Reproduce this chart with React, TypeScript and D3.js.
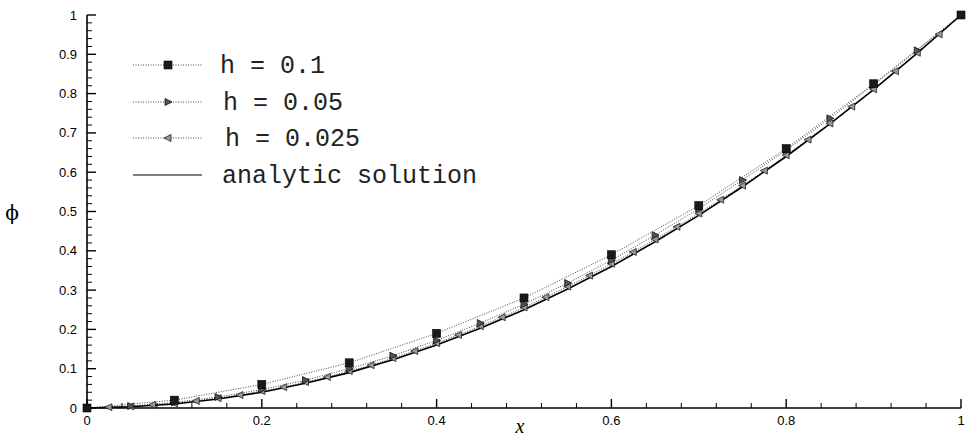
import * as d3 from "d3";

// x grid for each series
const xCoarse = [0, 0.1, 0.2, 0.3, 0.4, 0.5, 0.6, 0.7, 0.8, 0.9, 1];
const xMid = [0, 0.05, 0.1, 0.15, 0.2, 0.25, 0.3, 0.35, 0.4, 0.45, 0.5, 0.55, 0.6, 0.65, 0.7, 0.75, 0.8, 0.85, 0.9, 0.95, 1];
const xFine = [
  0, 0.025, 0.05, 0.075, 0.1, 0.125, 0.15, 0.175, 0.2, 0.225, 0.25, 0.275, 0.3, 0.325, 0.35, 0.375,
  0.4, 0.425, 0.45, 0.475, 0.5, 0.525, 0.55, 0.575, 0.6, 0.625, 0.65, 0.675, 0.7, 0.725, 0.75, 0.775,
  0.8, 0.825, 0.85, 0.875, 0.9, 0.925, 0.95, 0.975, 1,
];

// values
const phiH01 = [0, 0.02, 0.06, 0.115, 0.19, 0.28, 0.39, 0.515, 0.66, 0.825, 1.0];
const phiH005 = [
  0, 0.005, 0.014, 0.028, 0.047, 0.071, 0.1, 0.133, 0.172, 0.216, 0.264, 0.318, 0.376, 0.44, 0.507,
  0.58, 0.656, 0.737, 0.822, 0.91, 1.0,
];
const phiH0025 = [
  0, 0.002, 0.004, 0.008, 0.012, 0.018, 0.025, 0.033, 0.043, 0.053, 0.066, 0.079, 0.094, 0.109, 0.127,
  0.145, 0.165, 0.186, 0.208, 0.231, 0.256, 0.282, 0.309, 0.337, 0.367, 0.397, 0.429, 0.461, 0.495,
  0.53, 0.566, 0.604, 0.643, 0.683, 0.724, 0.767, 0.811, 0.857, 0.904, 0.951, 1.0,
];
const phiExact = [
  0, 0.003, 0.01, 0.023, 0.04, 0.063, 0.09, 0.123, 0.16, 0.203, 0.25, 0.303, 0.36, 0.423, 0.49, 0.563,
  0.64, 0.723, 0.81, 0.903, 1.0,
];

const xTickLabels = ["0", "0.2", "0.4", "0.6", "0.8", "1"];
const yTickLabels = ["0", "0.1", "0.2", "0.3", "0.4", "0.5", "0.6", "0.7", "0.8", "0.9", "1"];
const legendLabels = ["h = 0.1", "h = 0.05", "h = 0.025", "analytic solution"];

const W = 972, H = 440;
const left = 87, right = 961, top = 15, bottom = 408;

export default function App() {
  const x = d3.scaleLinear().domain([0, 1]).range([left, right]);
  const y = d3.scaleLinear().domain([0, 1]).range([bottom, top]);

  const line = d3.line<[number, number]>().x((d) => x(d[0])).y((d) => y(d[1]));
  const pts = (xs: number[], ys: number[]) => xs.map((v, i) => [v, ys[i]] as [number, number]);

  const xMajor = xTickLabels.map(Number);
  const xMinor = d3.range(0, 1.0001, 0.04).filter((v) => !xMajor.some((m) => Math.abs(m - v) < 1e-6));
  const yMajor = yTickLabels.map(Number);
  const yMinor = d3.range(0, 1.0001, 0.02).filter((v) => !yMajor.some((m) => Math.abs(m - v) < 1e-6));

  const square = (cx: number, cy: number, k: string) => (
    <rect key={k} x={cx - 4} y={cy - 4} width={8} height={8} fill="#1a1a1a" stroke="#000" strokeWidth={0.6} />
  );
  const triR = (cx: number, cy: number, k: string) => (
    <path key={k} d={`M${cx + 4},${cy} L${cx - 3},${cy - 3.5} L${cx - 3},${cy + 3.5} Z`} fill="#555" stroke="#111" strokeWidth={0.8} />
  );
  const triL = (cx: number, cy: number, k: string) => (
    <path key={k} d={`M${cx - 4},${cy} L${cx + 3},${cy - 3.5} L${cx + 3},${cy + 3.5} Z`} fill="#999" stroke="#222" strokeWidth={0.8} />
  );

  const dotted = { fill: "none", stroke: "#333", strokeWidth: 0.9, strokeDasharray: "1,1.5" };

  const legendY = [65, 102, 138, 175];
  const legendTextX = [220, 223, 225, 222];

  return (
    <svg width={W} height={H} style={{ position: "absolute", left: 0, top: 0, background: "#fff" }}>
      {/* axes */}
      <line x1={left} x2={left} y1={top} y2={bottom} stroke="#000" strokeWidth={1.6} />
      <line x1={left} x2={right} y1={bottom} y2={bottom} stroke="#000" strokeWidth={1.6} />
      {xMajor.map((v) => (
        <line key={"xM" + v} x1={x(v)} x2={x(v)} y1={bottom} y2={bottom - 9} stroke="#000" strokeWidth={1.4} />
      ))}
      {xMinor.map((v) => (
        <line key={"xm" + v} x1={x(v)} x2={x(v)} y1={bottom} y2={bottom - 5} stroke="#000" strokeWidth={1} />
      ))}
      {yMajor.map((v) => (
        <line key={"yM" + v} x1={left} x2={left + 9} y1={y(v)} y2={y(v)} stroke="#000" strokeWidth={1.4} />
      ))}
      {yMinor.map((v) => (
        <line key={"ym" + v} x1={left} x2={left + 5} y1={y(v)} y2={y(v)} stroke="#000" strokeWidth={1} />
      ))}
      {xTickLabels.map((t) => (
        <text key={"xl" + t} x={x(Number(t))} y={bottom + 17} textAnchor="middle" fontFamily="Liberation Sans, Arial" fontSize={13}>
          {t}
        </text>
      ))}
      {yTickLabels.map((t) => (
        <text key={"yl" + t} x={left - 10} y={y(Number(t)) + 4.5} textAnchor="end" fontFamily="Liberation Sans, Arial" fontSize={13}>
          {t}
        </text>
      ))}
      <text x={520} y={433} textAnchor="middle" fontFamily="Liberation Serif, serif" fontStyle="italic" fontSize={20}>
        x
      </text>
      <text x={12} y={220} textAnchor="middle" fontFamily="DejaVu Serif, Liberation Serif, serif" fontSize={20}>
        ϕ
      </text>

      {/* series */}
      <path d={line(pts(xCoarse, phiH01)) ?? ""} {...dotted} />
      <path d={line(pts(xMid, phiH005)) ?? ""} {...dotted} />
      <path d={line(pts(xFine, phiH0025)) ?? ""} {...dotted} />
      <path d={line(pts(xMid, phiExact)) ?? ""} fill="none" stroke="#000" strokeWidth={1.6} />
      {xFine.map((v, i) => triL(x(v), y(phiH0025[i]), "f" + i))}
      {xMid.map((v, i) => triR(x(v), y(phiH005[i]), "m" + i))}
      {xCoarse.map((v, i) => square(x(v), y(phiH01[i]), "c" + i))}

      {/* legend */}
      {legendLabels.map((t, i) => (
        <g key={"lg" + i}>
          <line
            x1={133}
            x2={202}
            y1={legendY[i]}
            y2={legendY[i]}
            {...(i === 3 ? { stroke: "#000", strokeWidth: 1.2 } : dotted)}
          />
          {i === 0 && square(168, legendY[i], "ls")}
          {i === 1 && triR(168, legendY[i], "lr")}
          {i === 2 && triL(168, legendY[i], "ll")}
          <text x={legendTextX[i]} y={legendY[i] + 8} fontFamily="Liberation Mono, Courier New, monospace" fontSize={25} fill="#222">
            {t}
          </text>
        </g>
      ))}
    </svg>
  );
}
